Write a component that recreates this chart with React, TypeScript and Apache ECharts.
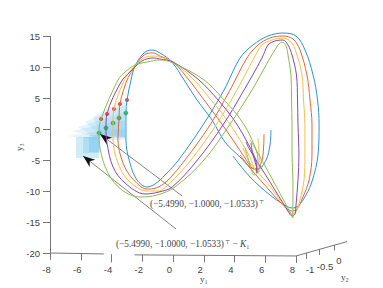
import React, { useEffect, useRef } from "react";
import * as echarts from "echarts";

const xTicks = [-8, -6, -4, -2, 0, 2, 4, 6, 8];
const yTicks = [-20, -15, -10, -5, 0, 5, 10, 15];

const blueY1 = [6.37,6.31,6.05,5.53,5.01,4.36,3.38,2.54,1.56,0.72,-0.07,-0.85,-1.37,-1.89,-2.47,-2.73,-2.99,-3.06,-3.06,-2.80,-2.34,-1.69,-1.17,-0.52,0.36,1.95,3.32,4.36,5.20,6.18,7.15,8.00,8.59,9.11,9.40,9.50,9.43,9.07,8.65,8.13,7.74,7.15,6.31,5.01,3.90];
const blueY3 = [-0.16,-2.58,-5.00,-6.45,-6.13,-4.52,-2.10,1.45,4.68,7.90,10.81,12.26,12.74,12.26,10.16,7.90,4.68,2.58,-1.77,-5.48,-8.23,-9.35,-8.87,-7.42,-5.0,0.65,6.29,11.45,13.55,15.0,15.48,15.0,12.74,8.71,4.68,0.65,-4.19,-8.23,-10.65,-12.42,-12.74,-12.10,-10.65,-7.74,-4.35];
const orangeY1 = [5.92,5.89,5.79,5.46,5.14,4.68,3.90,2.99,2.02,1.04,0.00,-0.85,-1.30,-1.89,-2.60,-2.99,-3.45,-3.51,-3.58,-3.25,-2.67,-1.69,-1.11,-0.39,0.78,2.41,3.71,4.81,5.53,6.31,7.15,7.80,8.26,8.71,8.91,9.04,9.04,8.85,8.45,8.07,7.74,7.28,6.31,5.01,4.36];
const orangeY3 = [-0.81,-3.06,-5.00,-6.61,-6.29,-4.68,-1.77,1.45,4.68,7.90,10.81,11.77,12.26,11.93,9.52,7.90,4.03,1.77,-1.77,-5.48,-7.90,-9.68,-9.52,-8.39,-5.0,0.65,6.29,11.45,13.55,14.68,15.0,14.52,12.74,8.71,4.68,0.65,-4.19,-8.23,-10.97,-12.90,-13.23,-12.58,-10.0,-6.29,-4.19];
const yellowY1 = [5.53,5.59,5.66,5.59,5.33,5.01,4.36,3.51,2.47,1.37,0.00,-0.85,-1.17,-1.89,-2.73,-3.25,-3.84,-3.90,-3.90,-3.58,-2.93,-1.69,-0.98,-0.20,1.17,2.80,4.16,5.27,5.79,6.44,7.15,7.67,8.00,8.39,8.49,8.58,8.58,8.52,8.26,8.00,7.74,7.41,6.31,5.01,4.55];
const yellowY3 = [-1.45,-3.71,-5.48,-6.94,-6.61,-4.52,-1.77,1.45,4.68,7.90,10.81,11.61,11.77,11.45,9.52,7.42,3.22,0.97,-1.77,-5.48,-8.23,-10.0,-10.0,-8.71,-5.0,0.65,6.29,11.45,13.55,14.35,14.68,14.03,12.42,8.71,4.68,0.65,-4.19,-8.23,-11.45,-13.39,-13.71,-13.06,-9.19,-5.48,-3.06];
const purpleY1 = [5.07,5.20,5.40,5.46,5.46,5.33,4.75,3.97,2.93,1.69,0.00,-0.85,-1.30,-2.02,-2.80,-3.38,-4.29,-4.36,-4.29,-3.90,-3.12,-1.82,-0.91,-0.05,1.59,3.25,4.62,5.79,6.18,6.63,7.15,7.48,7.74,8.03,8.10,8.13,8.19,8.13,8.00,7.93,7.74,7.48,6.31,5.01,4.75];
const purpleY3 = [-2.26,-4.19,-5.81,-7.10,-6.61,-4.68,-1.77,1.45,4.68,7.90,10.81,11.29,11.45,10.97,9.19,7.58,2.42,0.16,-2.26,-6.13,-8.71,-10.48,-10.16,-9.35,-5.0,0.65,6.29,11.45,13.55,14.19,14.35,13.55,11.94,8.71,4.68,0.65,-4.19,-8.23,-12.26,-13.71,-14.03,-13.23,-8.55,-3.39,-2.10];
const greenY1 = [4.68,4.88,5.07,5.27,5.53,5.53,5.14,4.42,3.38,2.02,0.00,-0.85,-1.69,-2.47,-3.12,-3.58,-4.68,-4.81,-4.75,-4.23,-3.32,-2.14,-1.04,0.13,2.02,3.67,5.14,6.31,6.83,6.89,7.09,7.35,7.48,7.67,7.71,7.74,7.74,7.80,7.80,7.80,7.80,7.61,6.31,5.33,5.01];
const greenY3 = [-3.06,-4.68,-6.29,-7.42,-6.94,-5.0,-1.77,1.45,4.52,7.90,10.65,11.13,10.81,10.32,9.19,7.90,1.61,-0.65,-3.06,-7.10,-9.84,-10.97,-10.65,-9.35,-5.0,0.65,6.29,11.45,13.55,13.71,14.03,13.39,11.94,8.71,4.68,0.65,-4.19,-8.23,-12.45,-13.90,-14.35,-13.39,-7.42,-3.06,-1.77];

const curveColors = ["#2f93d2", "#e2683a", "#f3c04c", "#8f47a6", "#8fbb4e"];

const redDotsY1 = [-2.99, -3.45, -3.84, -4.29, -4.68];
const redDotsY3 = [4.68, 4.03, 3.22, 2.42, 1.61];
const greenDotsY1 = [-3.06, -3.51, -3.90, -4.36, -4.81];
const greenDotsY3 = [2.58, 1.77, 0.97, 0.16, -0.65];

const shadePolygons = [
  [[-6.89,-1.13],[-4.75,-0.32],[-3.12,0.16],[-3.12,-1.77],[-4.75,-1.77]],
  [[-6.57,-0.32],[-4.75,0.64],[-3.12,1.45],[-3.12,-1.45],[-5.07,-1.29]],
  [[-6.18,0.32],[-4.75,1.45],[-3.12,2.74],[-3.12,-1.45],[-5.07,-1.29]],
  [[-5.72,1.13],[-4.42,2.58],[-3.12,3.87],[-3.12,-1.29],[-4.75,-0.97]],
  [[-5.2,1.93],[-4.42,3.06],[-3.12,4.68],[-3.12,-1.29],[-4.75,-0.97]],
  [[-6.31,-1.29],[-4.81,-1.29],[-4.81,-4.68],[-6.31,-4.68]],
  [[-5.85,-1.29],[-4.81,-1.29],[-4.81,-3.87],[-5.85,-3.87]],
  [[-5.46,-0.97],[-4.75,-0.97],[-4.75,-3.71],[-5.46,-3.71]],
];

const arrows = [
  [[0.59, -10.8], [-4.75, -0.81]],
  [[0.20, -16.13], [-5.85, -4.35]],
];

const frameLines = [
  [[-8, -20], [-8, 15]],
  [[-8, -20], [-4.5, -20.15]],
  [[-2.5, -20.3], [8, -20.48]],
  [[8, -20.48], [11.32, -18.16]],
  [[-8,-20],[-8,-21.1]],
  [[-6,-20.1],[-6,-21.2]],
  [[-4,-20.2],[-4,-21.5]],
  [[-2,-20.3],[-2,-21.4]],
  [[0,-20.35],[0,-21.45]],
  [[2,-20.38],[2,-21.5]],
  [[4,-20.4],[4,-21.5]],
  [[6,-20.45],[6,-21.55]],
  [[8,-20.48],[8,-21.6]],
  [[8.65,-19.99],[8.65,-20.96]],
  [[9.53,-19.35],[9.53,-20.32]],
  [[10.47,-18.71],[10.47,-19.6]],
];

const text1 = "(−5.4990, −1.0000, −1.0533)";
const text2 = "(−5.4990, −1.0000, −1.0533)";

const y2Ticks = [
  { text: "-1", x: 310, y: 269 },
  { text: "-0.5", x: 325, y: 266 },
  { text: "0", x: 339, y: 260 },
];

const zip = (a: number[], b: number[]) => a.map((v, i) => [v, b[i]]);

export default function App() {
  const ref = useRef<HTMLDivElement>(null);
  useEffect(() => {
    const chart = echarts.init(ref.current!, null, { renderer: "svg" });
    const curves = [zip(blueY1, blueY3), zip(orangeY1, orangeY3), zip(yellowY1, yellowY3), zip(purpleY1, purpleY3), zip(greenY1, greenY3)];
    const sans = "'Liberation Sans', Arial, sans-serif";
    const serif = "'Liberation Serif', 'DejaVu Serif', serif";
    const small = { fontFamily: serif, fontSize: 9.3, fill: "#444" };
    const rich = {
      s: { fontFamily: "'DejaVu Serif', serif", fontSize: 5.5, fill: "#444", verticalAlign: "top", padding: [0, 0, 4, 1] },
      k: { fontFamily: serif, fontStyle: "italic", fontSize: 9.3, fill: "#444" },
    };
    chart.setOption({
      animation: false,
      backgroundColor: "#fff",
      grid: { left: 50, top: 5, width: 276.75, height: 248 },
      xAxis: {
        type: "value", min: -8, max: 10, interval: 2,
        axisLine: { show: false, onZero: false }, axisTick: { show: false }, splitLine: { show: false },
        axisLabel: { margin: 11, fontFamily: sans, fontSize: 9.5, color: "#444", padding: [0, 7, 0, 0], customValues: xTicks, formatter: (v: number) => String(v) },
      },
      yAxis: {
        type: "value", min: -20, max: 20, interval: 5,
        axisLine: { show: false, onZero: false },
        axisTick: { show: true, length: 7, lineStyle: { color: "#777" }, customValues: yTicks },
        splitLine: { show: false },
        axisLabel: { margin: 10, fontFamily: sans, fontSize: 9.5, color: "#444", customValues: yTicks },
      },
      series: [
        {
          type: "custom", coordinateSystem: "cartesian2d", clip: false, silent: true,
          data: shadePolygons.map((_, i) => [i]),
          renderItem: (params: any, api: any) => ({
            type: "polygon",
            shape: { points: shadePolygons[params.dataIndex].map((p) => api.coord(p)) },
            style: { fill: "#5ab9ea", opacity: params.dataIndex > 4 ? 0.28 : 0.16 },
          }),
        },
        ...curves.map((data, i) => ({
          type: "line", data, showSymbol: false, clip: false, smooth: 0.35,
          lineStyle: { color: curveColors[i], width: 1 }, silent: true,
        })),
        {
          type: "lines", coordinateSystem: "cartesian2d", silent: true,
          data: frameLines.map((coords) => ({ coords })),
          lineStyle: { color: "#777", width: 1, opacity: 1 },
          clip: false,
        },
        {
          type: "custom", coordinateSystem: "cartesian2d", clip: false, silent: true,
          data: arrows.map((_, i) => [i]),
          renderItem: (params: any, api: any) => {
            const [from, to] = arrows[params.dataIndex].map((p) => api.coord(p));
            const dx = from[0] - to[0], dy = from[1] - to[1];
            const len = Math.hypot(dx, dy), ux = dx / len, uy = dy / len;
            const at = (along: number, side: number) => [to[0] + ux * along - uy * side, to[1] + uy * along + ux * side];
            return {
              type: "group",
              children: [
                { type: "line", shape: { x1: from[0], y1: from[1], x2: to[0], y2: to[1] }, style: { stroke: "#666", lineWidth: 0.8 } },
                { type: "polygon", shape: { points: [at(0, 0), at(12, 4.5), at(8.5, 0), at(12, -4.5)] }, style: { fill: "#111" } },
              ],
            };
          },
        },
        {
          type: "scatter", data: zip(redDotsY1, redDotsY3), symbolSize: 4, clip: false,
          itemStyle: { color: "#ec1c14" }, silent: true,
        },
        {
          type: "scatter", data: zip(greenDotsY1, greenDotsY3), symbolSize: 4, clip: false,
          itemStyle: { color: "#22c22e", borderColor: "#116622", borderWidth: 0.5 }, silent: true,
        },
      ],
      graphic: [
        { type: "text", x: 150, y: 199, style: { ...small, rich, text: text1 + "{s|⊤}" } },
        { type: "text", x: 116, y: 239, style: { ...small, rich, text: text2 + "{s|⊤} − {k|K}₁" } },
        { type: "text", x: 200, y: 274, style: { ...small, fontSize: 9, text: "y₁" } },
        { type: "text", x: 341, y: 272, style: { ...small, fontSize: 9, text: "y₂" } },
        { type: "text", x: 14, y: 151, rotation: Math.PI / 2, style: { ...small, fontSize: 9, text: "y₃" } },
        ...y2Ticks.map((t) => ({
          type: "text", x: t.x, y: t.y,
          style: { text: t.text, fontFamily: sans, fontSize: 9.5, fill: "#444", textAlign: "center", textVerticalAlign: "middle" },
        })),
      ],
    });
    return () => chart.dispose();
  }, []);
  return <div ref={ref} style={{ position: "absolute", left: 0, top: 0, width: 383, height: 288 }} />;
}
